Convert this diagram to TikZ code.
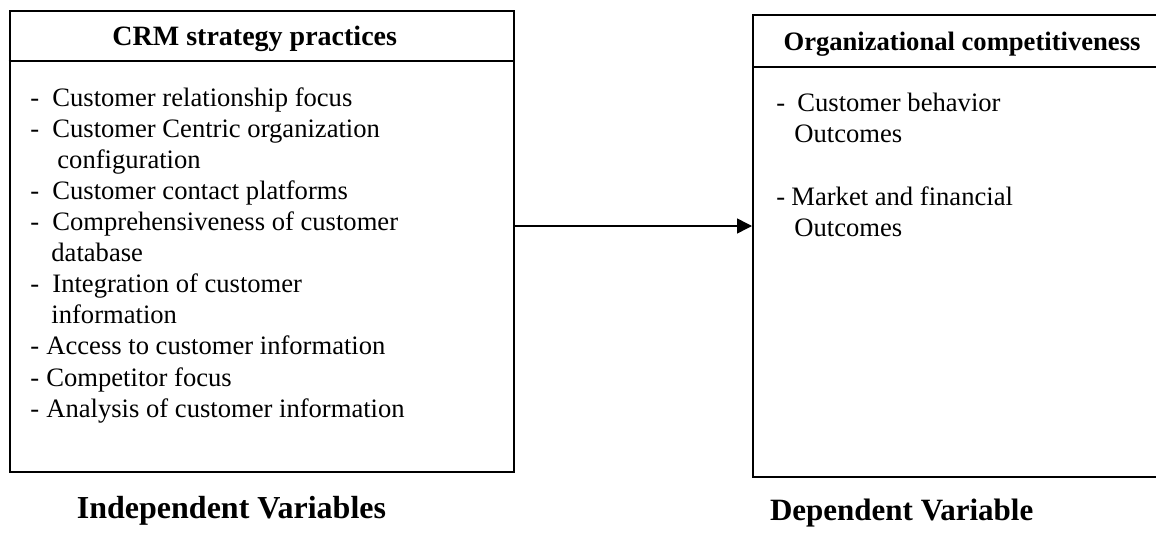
\documentclass[tikz,border=0pt]{standalone}
\usepackage{fontspec}
\setmainfont{Liberation Serif}
\usetikzlibrary{calc,positioning,arrows.meta}

\newcommand{\itm}[2]{\makebox[#1][l]{-}#2}

\begin{document}
\begin{tikzpicture}[x=0.5pt,y=-0.5pt,>={Triangle[length=7.5pt,width=7.5pt]}]

\tikzstyle{panel}=[draw, line width=1pt, inner sep=0pt]
\tikzstyle{head}=[font=\bfseries\fontsize{14}{16}\selectfont]
\tikzstyle{items}=[anchor=north west, inner sep=0pt, align=left, font=\fontsize{13.3}{15.55}\selectfont]
\tikzstyle{varlabel}=[font=\bfseries\fontsize{15.5}{18}\selectfont]
\tikzstyle{cr}=[line width=0.75pt]

\useasboundingbox (0,0) rectangle (1156,535);
\clip (0,0) rectangle (1156,535);

% left box
\node(L1)[panel, minimum width=252.25pt, minimum height=230.5pt] at (261.75,241.5) {};
\draw[line width=1pt] ($(L1.north west)+(0,51.5)$) -- ($(L1.north east)+(0,51.5)$);
\node(L1t)[head] at ($(L1.north)+(-7,29)$) {CRM strategy practices};

\node(L1i)[items] at (30,87) {\itm{11pt}{Customer relationship focus}\\
\itm{11pt}{Customer Centric organization}\\
\hspace*{13.5pt}configuration\\
\itm{11pt}{Customer contact platforms}\\
\itm{11pt}{Comprehensiveness of customer}\\
\hspace*{10.5pt}database\\
\itm{11pt}{Integration of customer}\\
\hspace*{10.5pt}information\\
\itm{8pt}{Access to customer information}\\
\itm{8pt}{Competitor focus}\\
\itm{8pt}{Analysis of customer information}};


% right box
\node(R1)[panel, minimum width=211pt, minimum height=231pt] at (964,246) {};
\draw[line width=1pt] ($(R1.north west)+(0,53)$) -- ($(R1.north east)+(0,53)$);
\node(R1t)[head, font=\bfseries\fontsize{13.3}{16}\selectfont] at ($(R1.north)+(-2,30)$) {Organizational competitiveness};

\node(R1i)[items] at (776,93) {\itm{10.5pt}{Customer behavior}\\
\hspace*{9pt}Outcomes\\[15.55pt]
\itm{7.5pt}{Market and financial}\\
\hspace*{9pt}Outcomes};


% variable labels
\node(IV)[varlabel, font=\bfseries\fontsize{16}{18}\selectfont] at (231.5,511) {Independent Variables};
\node(DV)[varlabel, anchor=west] at (763,513) {Dependent Variable};

% arrow
\coordinate (A) at (633,226);
\draw[->, style = cr] (L1.east |- A) -- (R1.west |- A);

\end{tikzpicture}
\end{document}
